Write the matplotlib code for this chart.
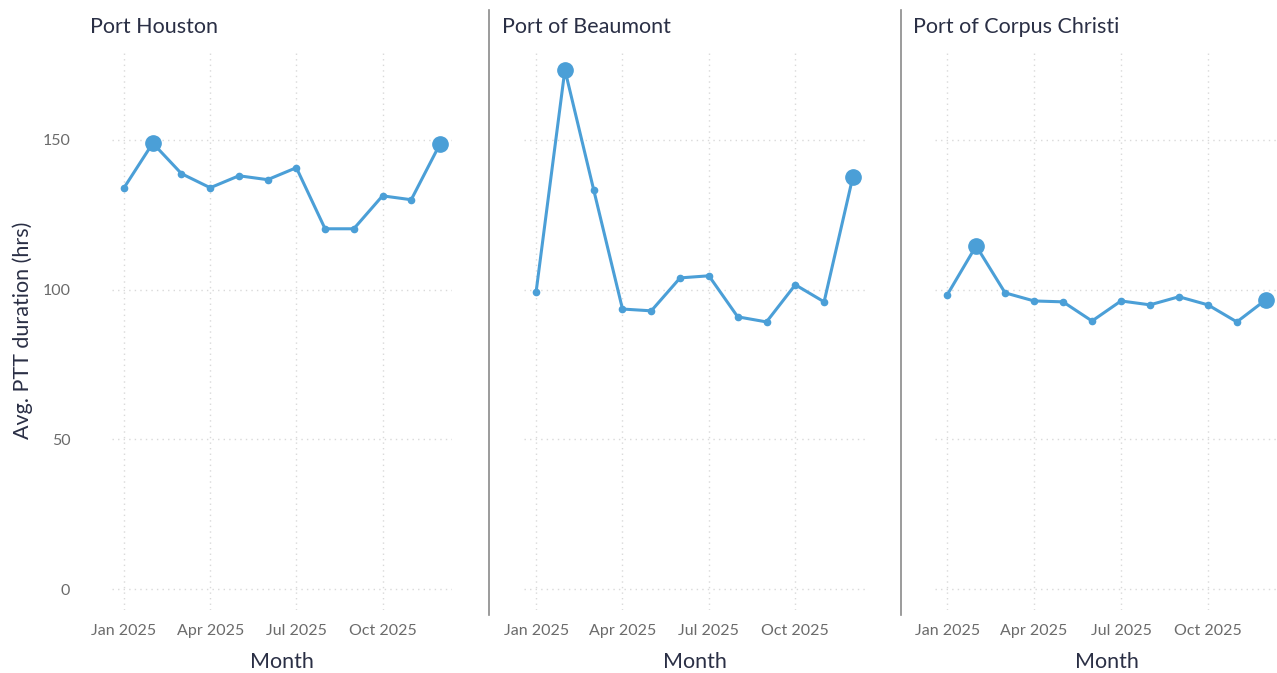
import matplotlib.pyplot as plt
from matplotlib.lines import Line2D

plt.rcParams['font.family'] = ['Lato', 'DejaVu Sans']

months = ["Jan", "Feb", "Mar", "Apr", "May", "Jun",
          "Jul", "Aug", "Sep", "Oct", "Nov", "Dec"]
tick_months = [0, 3, 6, 9]
tick_labels = ["Jan 2025", "Apr 2025", "Jul 2025", "Oct 2025"]

ports = ["Port Houston", "Port of Beaumont", "Port of Corpus Christi"]
houston = [134.0, 148.9, 138.7, 134.0, 138.0, 136.7,
           140.7, 120.3, 120.3, 131.3, 130.0, 148.6]
beaumont = [99.2, 173.4, 133.3, 93.5, 92.9, 103.9,
            104.6, 90.9, 89.2, 101.6, 95.9, 137.7]
corpus = [98.2, 114.6, 98.9, 96.2, 95.9, 89.5,
          96.2, 94.9, 97.6, 94.9, 89.2, 96.6]
series = [houston, beaumont, corpus]

LINE_COLOR = "#4b9fd7"
TITLE_COLOR = "#2a2f45"
TICK_COLOR = "#6b6b6b"
GRID_COLOR = "#d9d9d9"

fig = plt.figure(figsize=(12.77, 6.73), dpi=100)
W, H = 1277, 673

# panel geometry in pixels: (left, right)
panels = [(112, 452), (524, 865), (935, 1278)]
top_px, bottom_px = 50, 610

xs = list(range(len(months)))
for i, (name, vals) in enumerate(zip(ports, series)):
    l, r = panels[i]
    ax = fig.add_axes([l / W, 1 - bottom_px / H, (r - l) / W, (bottom_px - top_px) / H])
    ax.plot(xs, vals, color=LINE_COLOR, lw=2.2, marker="o", ms=4.5, zorder=3)
    # highlight max and latest month
    big = {vals.index(max(vals)), len(vals) - 1}
    for b in big:
        ax.plot(xs[b], vals[b], "o", color=LINE_COLOR, ms=11, zorder=4)
    ax.set_xlim(-0.42, 11.42)
    ax.set_ylim(-7, 180)
    ax.set_yticks([0, 50, 100, 150])
    ax.set_xticks(tick_months)
    ax.set_xticklabels(tick_labels)
    ax.grid(True, color=GRID_COLOR, ls=(0, (1, 3)), lw=1)
    for s in ax.spines.values():
        s.set_visible(False)
    ax.tick_params(axis="x", length=0, pad=10, labelsize=11.5, labelcolor=TICK_COLOR)
    ax.tick_params(axis="y", length=0, pad=30, labelsize=11.5, labelcolor=TICK_COLOR)
    if i > 0:
        ax.set_yticklabels([])
    ax.set_xlabel("Month", fontsize=15.5, color=TITLE_COLOR, labelpad=10)
    fig.text((l - 22) / W, 1 - 27 / H, name, fontsize=15.5, color=TITLE_COLOR,
             ha="left", va="center")
    if i == 0:
        ax.set_ylabel("Avg. PTT duration (hrs)", fontsize=15.5, color=TITLE_COLOR, labelpad=7)

# separators between panels
for xp in [489, 901]:
    fig.add_artist(Line2D([xp / W, xp / W], [1 - 10 / H, 1 - 615 / H],
                          transform=fig.transFigure, color="#8a8a8a", lw=1.2))

plt.savefig("out.png", dpi=100, facecolor="white")
